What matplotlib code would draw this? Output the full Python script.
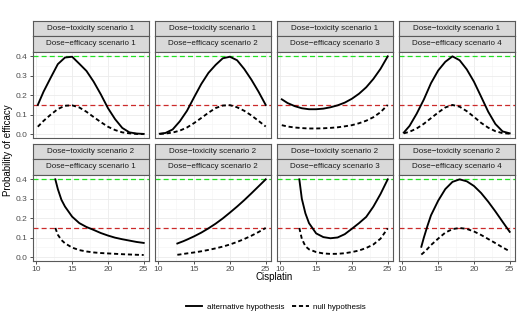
import matplotlib.pyplot as plt
from matplotlib.lines import Line2D

plt.rcParams['font.family'] = ['Liberation Sans', 'DejaVu Sans']

W, H = 520, 325

# doses (top row: toxicity scenario 1, bottom row: toxicity scenario 2)
dose_top = [10.2, 11, 12, 13, 14, 15, 16, 17, 18, 19, 20, 21, 22, 23, 24, 25]
dose_bottom = [12.65, 13, 13.5, 14, 15, 16, 17, 18, 19, 20, 21, 22, 23, 24, 25]

tox_labels = ["Dose\u2212toxicity scenario 1", "Dose\u2212toxicity scenario 2"]
eff_labels = ["Dose\u2212efficacy scenario 1", "Dose\u2212efficacy scenario 2",
              "Dose\u2212efficacy scenario 3", "Dose\u2212efficacy scenario 4"]

# toxicity scenario 1
alt_t1_e1 = [0.15, 0.218, 0.29, 0.36, 0.394, 0.398, 0.362, 0.325, 0.27, 0.205,
             0.134, 0.077, 0.032, 0.009, 0.003, 0.001]
null_t1_e1 = [0.038, 0.068, 0.10, 0.129, 0.146, 0.148, 0.137, 0.115, 0.088, 0.062,
              0.038, 0.021, 0.009, 0.004, 0.001, 0.0]
alt_t1_e2 = [0.002, 0.006, 0.024, 0.066, 0.12, 0.19, 0.258, 0.315, 0.356, 0.39,
             0.398, 0.38, 0.335, 0.28, 0.218, 0.15]
null_t1_e2 = [0.001, 0.003, 0.008, 0.018, 0.034, 0.057, 0.083, 0.11, 0.134, 0.147,
              0.149, 0.138, 0.12, 0.096, 0.068, 0.039]
alt_t1_e3 = [0.179, 0.160, 0.144, 0.133, 0.128, 0.128, 0.131, 0.138, 0.148, 0.162,
             0.182, 0.208, 0.241, 0.284, 0.336, 0.40]
null_t1_e3 = [0.046, 0.039, 0.034, 0.031, 0.029, 0.029, 0.030, 0.032, 0.035, 0.040,
              0.046, 0.056, 0.069, 0.087, 0.113, 0.15]
alt_t1_e4 = [0.008, 0.042, 0.105, 0.178, 0.262, 0.327, 0.372, 0.40, 0.38, 0.333,
             0.27, 0.193, 0.115, 0.052, 0.014, 0.004]
null_t1_e4 = [0.004, 0.012, 0.029, 0.053, 0.082, 0.111, 0.137, 0.15, 0.141, 0.118,
              0.089, 0.058, 0.033, 0.015, 0.005, 0.002]

# toxicity scenario 2
alt_t2_e1 = [0.40, 0.35, 0.295, 0.26, 0.208, 0.175, 0.155, 0.14, 0.124, 0.111,
             0.10, 0.092, 0.085, 0.078, 0.073]
null_t2_e1 = [0.15, 0.115, 0.088, 0.071, 0.049, 0.036, 0.029, 0.024, 0.021, 0.019,
              0.017, 0.015, 0.0135, 0.012, 0.011]
alt_t2_e2 = [0.07, 0.075, 0.082, 0.09, 0.107, 0.126, 0.148, 0.172, 0.199, 0.229,
             0.26, 0.293, 0.328, 0.364, 0.40]
null_t2_e2 = [0.012, 0.0135, 0.0165, 0.019, 0.024, 0.030, 0.037, 0.045, 0.054, 0.065,
              0.078, 0.093, 0.11, 0.129, 0.15]
alt_t2_e3 = [0.40, 0.30, 0.225, 0.175, 0.122, 0.103, 0.097, 0.101, 0.118, 0.146,
             0.175, 0.207, 0.26, 0.325, 0.40]
null_t2_e3 = [0.15, 0.094, 0.056, 0.04, 0.026, 0.019, 0.0165, 0.017, 0.02, 0.026,
              0.034, 0.047, 0.065, 0.095, 0.148]
alt_t2_e4 = [0.053, 0.10, 0.16, 0.215, 0.29, 0.35, 0.387, 0.40, 0.39, 0.366,
             0.33, 0.285, 0.235, 0.182, 0.13]
null_t2_e4 = [0.013, 0.024, 0.042, 0.062, 0.095, 0.126, 0.144, 0.15, 0.145, 0.132,
              0.114, 0.093, 0.072, 0.05, 0.03]

alt_target = 0.4
null_target = 0.15

rows = [
    (dose_top, [(alt_t1_e1, null_t1_e1), (alt_t1_e2, null_t1_e2),
                (alt_t1_e3, null_t1_e3), (alt_t1_e4, null_t1_e4)]),
    (dose_bottom, [(alt_t2_e1, null_t2_e1), (alt_t2_e2, null_t2_e2),
                   (alt_t2_e3, null_t2_e3), (alt_t2_e4, null_t2_e4)]),
]

fig = plt.figure(figsize=(W / 100, H / 100), dpi=100)

col_left = [32.5, 154.5, 276.5, 398.5]
col_w = 116.5
# (strip1 top, strip2 top, panel top, panel bottom) in pixels
row_y = [(21, 36, 51.5, 138), (143.5, 159, 174.5, 261)]

def px_rect(x0, y0, x1, y1):
    return [x0 / W, 1 - y1 / H, (x1 - x0) / W, (y1 - y0) / H]

BORDER = "#595959"
TXT = 5.8
DASH = (0, (2.2, 1.5))

for r, (doses, curves) in enumerate(rows):
    s1, s2, p0, p1 = row_y[r]
    for c, (alt, null) in enumerate(curves):
        x0 = col_left[c]
        x1 = x0 + col_w
        for (ya, yb, lab) in [(s1, s2, tox_labels[r]), (s2, p0, eff_labels[c])]:
            sax = fig.add_axes(px_rect(x0, ya, x1, yb))
            sax.set_facecolor("#D9D9D9")
            sax.set_xticks([])
            sax.set_yticks([])
            for sp in sax.spines.values():
                sp.set_color(BORDER)
                sp.set_linewidth(0.8)
            sax.text(0.5, 0.5, lab, ha="center", va="center", fontsize=TXT,
                     color="#1A1A1A", transform=sax.transAxes)

        ax = fig.add_axes(px_rect(x0, p0, x1, p1))
        ax.set_xlim(9.46, 25.74)
        ax.set_ylim(-0.02, 0.425)
        ax.set_xticks([10, 15, 20, 25])
        ax.set_xticks([12.5, 17.5, 22.5], minor=True)
        ax.set_yticks([0.0, 0.1, 0.2, 0.3, 0.4])
        ax.set_yticks([0.05, 0.15, 0.25, 0.35], minor=True)
        ax.grid(which="major", color="#EBEBEB", linewidth=0.6)
        ax.grid(which="minor", color="#F3F3F3", linewidth=0.4)
        ax.set_axisbelow(True)
        for sp in ax.spines.values():
            sp.set_color(BORDER)
            sp.set_linewidth(0.8)
        ax.tick_params(which="minor", length=0)
        ax.tick_params(which="major", length=2, width=0.6, color="#333333",
                       labelsize=6.0, labelcolor="#4D4D4D", pad=1.5)
        if r == 0:
            ax.tick_params(axis="x", which="major", length=0, labelbottom=False)
        else:
            ax.set_xticklabels(["10", "15", "20", "25"])
        if c == 0:
            ax.set_yticklabels(["0.0", "0.1", "0.2", "0.3", "0.4"])
        else:
            ax.tick_params(axis="y", which="major", length=0, labelleft=False)

        ax.axhline(alt_target, color="#22E022", linestyle=(0, (4, 2.5)), linewidth=0.9)
        ax.axhline(null_target, color="#CC2A2A", linestyle=(0, (4, 2.5)), linewidth=0.9)
        ax.plot(doses, alt, color="black", linewidth=1.35, solid_joinstyle="round")
        ax.plot(doses, null, color="black", linewidth=1.35, linestyle=DASH)

fig.text(8 / W, 1 - 150 / H, "Probability of efficacy", rotation=90,
         ha="center", va="center", fontsize=7.0, color="black")
fig.text(274 / W, 1 - 277 / H, "Cisplatin", ha="center", va="center",
         fontsize=7.0, color="black")

handles = [Line2D([], [], color="black", linewidth=1.35),
           Line2D([], [], color="black", linewidth=1.35, linestyle=DASH)]
fig.legend(handles, ["alternative hypothesis", "null hypothesis"], ncol=2,
           loc="center", bbox_to_anchor=(276 / W, 1 - 307 / H), frameon=False,
           fontsize=TXT, handlelength=2.0, handletextpad=0.6, columnspacing=1.0)

fig.savefig("out.png", dpi=100)
